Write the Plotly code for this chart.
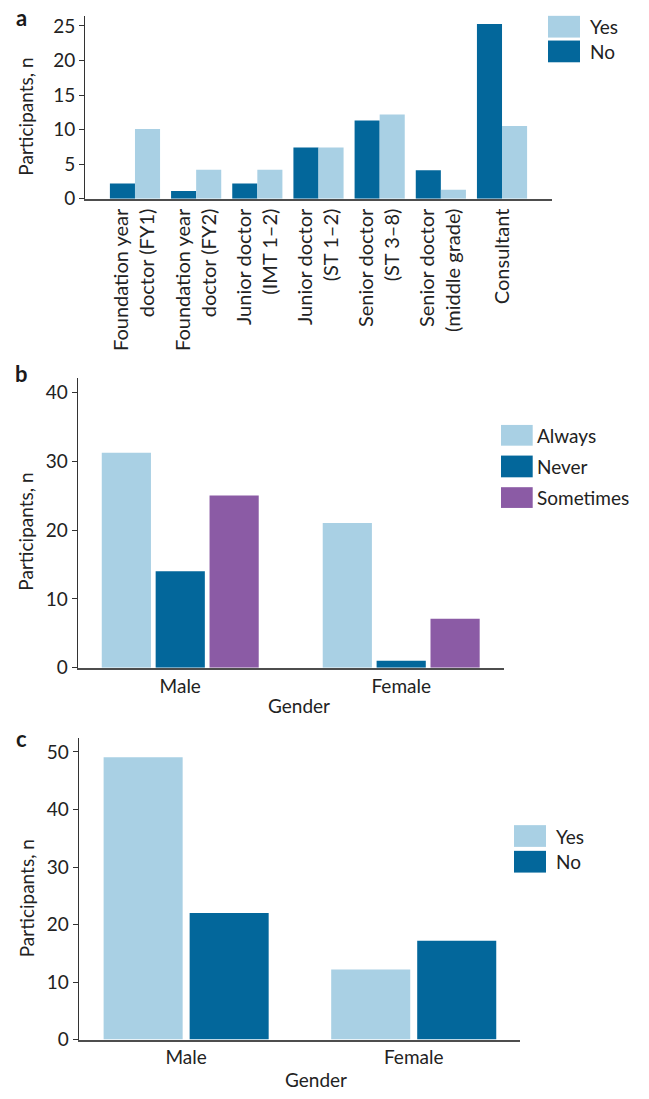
import plotly.graph_objects as go

# ---- data -------------------------------------------------------------
roles = [
    "Foundation year<br>doctor (FY1)",
    "Foundation year<br>doctor (FY2)",
    "Junior doctor<br>(IMT 1–2)",
    "Junior doctor<br>(ST 1–2)",
    "Senior doctor<br>(ST 3–8)",
    "Senior doctor<br>(middle grade)",
    "Consultant",
]
role_no = [2.2, 1.1, 2.2, 7.4, 11.3, 4.1, 25.3]
role_yes = [10.1, 4.2, 4.2, 7.4, 12.2, 1.3, 10.5]

genders = ["Male", "Female"]
freq_always = [31.2, 21.0]
freq_never = [14.0, 1.0]
freq_sometimes = [25.0, 7.1]

gender_yes = [49.1, 12.2]
gender_no = [22.0, 17.2]

# ---- styling ----------------------------------------------------------
W, H = 649, 1099
LIGHT = "#a9d0e4"
DARK = "#03679b"
PURPLE = "#8b5ba5"
TEXT = "#222222"
FONT = "Lato"


def fx(px):
    return px / W


def fy(py):
    return 1 - py / H


fig = go.Figure()

# panel a
fig.add_bar(x=roles, y=role_no, name="No", marker_color=DARK, width=0.41, offset=-0.41,
            xaxis="x", yaxis="y")
fig.add_bar(x=roles, y=role_yes, name="Yes", marker_color=LIGHT, width=0.41, offset=0.0,
            xaxis="x", yaxis="y")

# panel b
wb, sb = 0.2226, 0.2439
fig.add_bar(x=genders, y=freq_always, name="Always", marker_color=LIGHT, width=wb,
            offset=-sb - wb / 2, xaxis="x2", yaxis="y2")
fig.add_bar(x=genders, y=freq_never, name="Never", marker_color=DARK, width=wb,
            offset=-wb / 2, xaxis="x2", yaxis="y2")
fig.add_bar(x=genders, y=freq_sometimes, name="Sometimes", marker_color=PURPLE, width=wb,
            offset=sb - wb / 2, xaxis="x2", yaxis="y2")

# panel c
wc, sc = 0.3473, 0.378
fig.add_bar(x=genders, y=gender_yes, name="Yes", marker_color=LIGHT, width=wc,
            offset=-sc / 2 - wc / 2, xaxis="x3", yaxis="y3")
fig.add_bar(x=genders, y=gender_no, name="No", marker_color=DARK, width=wc,
            offset=sc / 2 - wc / 2, xaxis="x3", yaxis="y3")

fig.update_traces(marker_line_width=0)

xcommon = dict(type="category", showgrid=False, zeroline=False, showline=True,
               linecolor="#4d4d4d", linewidth=2, ticks="", tickfont=dict(size=19, color=TEXT))
ycommon = dict(showgrid=False, zeroline=False, showline=True, linecolor="#333333",
               linewidth=1, ticks="outside", ticklen=5, tickwidth=1, tickcolor="#333333",
               tickfont=dict(size=19, color=TEXT))

fig.update_layout(
    width=W, height=H, margin=dict(l=0, r=0, t=0, b=0),
    paper_bgcolor="white", plot_bgcolor="white",
    barmode="overlay", showlegend=False,
    font=dict(family=FONT, size=19, color=TEXT),
    xaxis=dict(xcommon, domain=[fx(85), fx(552)], range=[-0.817, 6.817],
               tickangle=-90, tickfont=dict(size=20, color=TEXT), anchor="y"),
    yaxis=dict(ycommon, domain=[fy(199), fy(14)], range=[0, 26.47],
               tickvals=[0, 5, 10, 15, 20, 25], anchor="x"),
    xaxis2=dict(xcommon, domain=[fx(77.5), fx(503.5)], range=[-0.465, 1.463], anchor="y2"),
    yaxis2=dict(ycommon, domain=[fy(673.7), fy(381)], range=[0, 42.0],
                tickvals=[0, 10, 20, 30, 40], anchor="x2"),
    xaxis3=dict(xcommon, domain=[fx(78.5), fx(520)], range=[-0.473, 1.467], anchor="y3"),
    yaxis3=dict(ycommon, domain=[fy(1050), fy(745)], range=[0, 52.4],
                tickvals=[0, 10, 20, 30, 40, 50], anchor="x3"),
)

shapes = []
annotations = []


def legend(entries, x0, x1, text_x):
    for name, color, top, bottom in entries:
        shapes.append(dict(type="rect", xref="paper", yref="paper",
                           x0=fx(x0), x1=fx(x1), y0=fy(bottom), y1=fy(top),
                           fillcolor=color, line=dict(width=0)))
        annotations.append(dict(text=name, xref="paper", yref="paper",
                                x=fx(text_x), y=fy((top + bottom) / 2),
                                xanchor="left", yanchor="middle", showarrow=False,
                                font=dict(size=19, color=TEXT)))


legend([("Yes", LIGHT, 14, 36), ("No", DARK, 39, 61)], 548, 580, 588)
legend([("Always", LIGHT, 428, 449), ("Never", DARK, 459, 481),
        ("Sometimes", PURPLE, 491, 512)], 501, 532.7, 535)
legend([("Yes", LIGHT, 833, 855), ("No", DARK, 859, 881)], 514, 546, 554)

# axis titles
for ycen in (116, 536, 907):
    annotations.append(dict(text="Participants, n", xref="paper", yref="paper",
                            x=fx(26), y=fy(ycen), xanchor="center", yanchor="middle",
                            textangle=-90, showarrow=False, font=dict(size=19, color=TEXT)))
for xcen, ycen in ((299, 712), (316, 1090)):
    annotations.append(dict(text="Gender", xref="paper", yref="paper",
                            x=fx(xcen), y=fy(ycen), xanchor="center", yanchor="middle",
                            showarrow=False, font=dict(size=19, color=TEXT)))

# panel letters
for letter, ycen in (("a", 16), ("b", 376), ("c", 745)):
    annotations.append(dict(text=f"<b>{letter}</b>", xref="paper", yref="paper",
                            x=fx(21), y=fy(ycen), xanchor="center", yanchor="middle",
                            showarrow=False, font=dict(size=22, color="#1a1a1a")))

fig.update_layout(shapes=shapes, annotations=annotations)

fig.write_html("out.html")
